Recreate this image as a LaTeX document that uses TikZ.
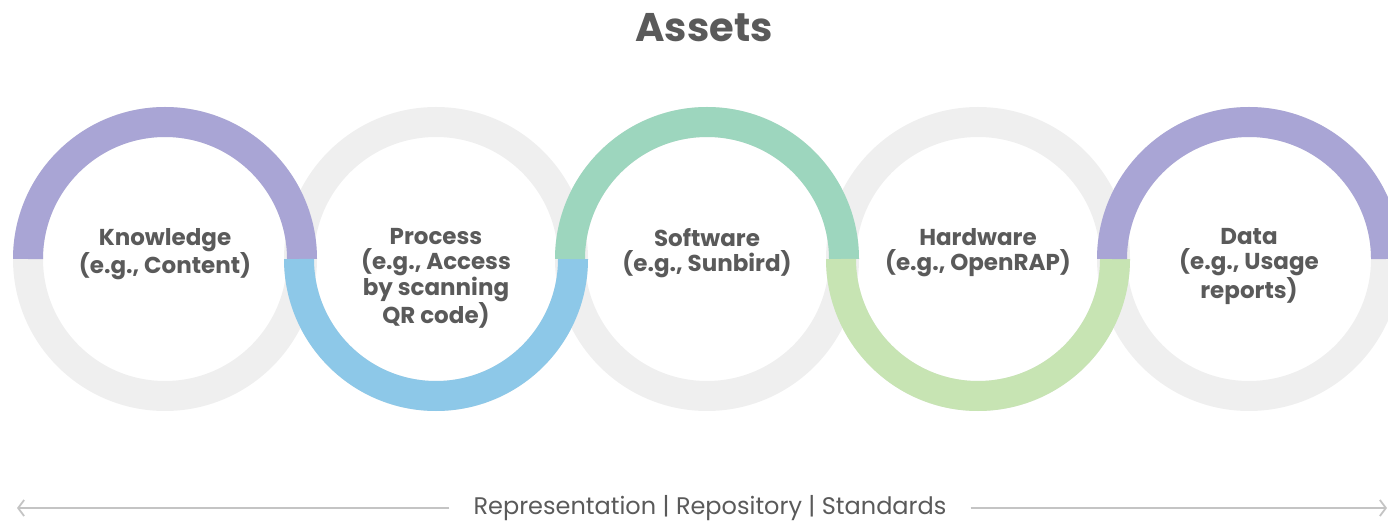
\documentclass[tikz,border=0pt]{standalone}
\usepackage{fontspec}
\setmainfont{Poppins}
\usetikzlibrary{arrows.meta}
\definecolor{ringgrey}{HTML}{EFEFEF}
\definecolor{ringpurple}{HTML}{A9A5D5}
\definecolor{ringblue}{HTML}{8DC8E8}
\definecolor{ringteal}{HTML}{9DD6BE}
\definecolor{ringgreen}{HTML}{C7E4B3}
\definecolor{textgrey}{HTML}{5A5A5A}
\definecolor{bargrey}{HTML}{C4C4C4}
\tikzset{
	ringbase/.style={ringgrey,line width=30pt},
	ringhalf/.style={line width=30pt},
	assettext/.style={textgrey,font=\bfseries\fontsize{23}{25.5}\selectfont,align=center,anchor=north,inner sep=0pt},
	titletext/.style={textgrey,font=\bfseries\fontsize{40}{44}\selectfont},
	bartext/.style={textgrey,font=\fontsize{24}{28}\selectfont,inner xsep=24pt},
	barline/.style={bargrey,line width=1.6pt,-{Straight Barb[length=6pt,width=16pt,line width=1.8pt]}}
}
\begin{document}
\begin{tikzpicture}[x=1pt,y=1pt]
	\clip (0,0) rectangle (1388,525);
	\begin{pgfinterruptboundingbox}
		%Centres
		\coordinate (knowc) at (165,266);
		\coordinate (procc) at (436,266);
		\coordinate (softc) at (707,266);
		\coordinate (hardc) at (978,266);
		\coordinate (datac) at (1249,266);
		%Grey rings
		\draw[ringbase] (knowc) circle (137pt);
		\draw[ringbase] (procc) circle (137pt);
		\draw[ringbase] (softc) circle (137pt);
		\draw[ringbase] (hardc) circle (137pt);
		\draw[ringbase] (datac) circle (137pt);
		%Coloured halves
		\draw[ringhalf,ringpurple] (knowc) ++(137pt,0) arc (0:180:137pt);
		\draw[ringhalf,ringblue] (procc) ++(-137pt,0) arc (180:360:137pt);
		\draw[ringhalf,ringteal] (softc) ++(137pt,0) arc (0:180:137pt);
		\draw[ringhalf,ringgreen] (hardc) ++(-137pt,0) arc (180:360:137pt);
		\draw[ringhalf,ringpurple] (datac) ++(137pt,0) arc (0:180:137pt);
		%Labels
		\node[assettext] (know) at ([yshift=31pt]knowc) {Knowledge\\(e.g., Content)};
		\node[assettext] (proc) at ([yshift=31pt]procc) {Process\\(e.g., Access\\by scanning\\QR code)};
		\node[assettext] (soft) at ([yshift=31pt]softc) {Software\\(e.g., Sunbird)};
		\node[assettext] (hard) at ([yshift=31pt]hardc) {Hardware\\(e.g., OpenRAP)};
		\node[assettext] (data) at ([yshift=31pt]datac) {Data\\(e.g., Usage\\reports)};
		%Title
		\node[titletext] (assets) at (704,497) {Assets};
		%Bottom bar
		\node[bartext] (bar) at (710,17) {Representation | Repository | Standards};
		\coordinate (barleft) at (17,17);
		\coordinate (barright) at (1387,17);
		\draw[barline] (bar.west) -- (barleft);
		\draw[barline] (bar.east) -- (barright);
	\end{pgfinterruptboundingbox}
\end{tikzpicture}
\end{document}
